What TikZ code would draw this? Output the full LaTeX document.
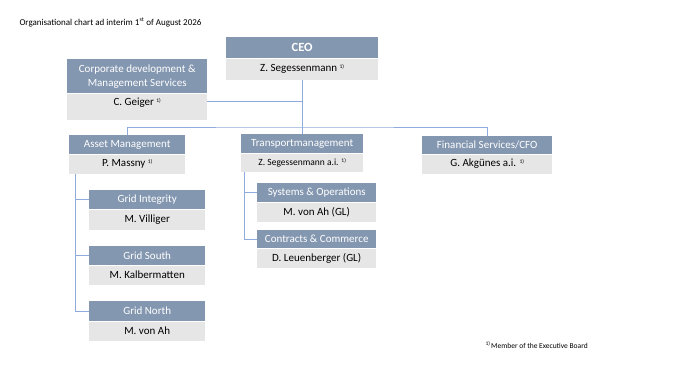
\documentclass[tikz,border=0pt]{standalone}
\usepackage{fontspec}
\setmainfont{Carlito}
\usetikzlibrary{positioning}
\definecolor{hdblue}{HTML}{8497B0}
\definecolor{bdgray}{HTML}{E7E6E6}
\definecolor{lnblue}{HTML}{8FAADC}
\newcommand{\eb}{\raisebox{3pt}{\fontsize{5.5}{6}\selectfont 1)}}
\tikzstyle{hd}=[fill=hdblue,text=white,inner sep=0pt,minimum height=19,anchor=north west,font=\fontsize{11}{14}\selectfont]
\tikzstyle{bd}=[fill=bdgray,inner sep=0pt,minimum height=19,font=\fontsize{11}{14}\selectfont]
\tikzstyle{ln}=[draw=lnblue,line width=0.8pt]

\begin{document}
\begin{tikzpicture}[x=1pt,y=-1pt]
	\useasboundingbox (0,0) rectangle (690,388);
	\node[anchor=west,font=\fontsize{9}{11}\selectfont] (title) at (16,22) {Organisational chart ad interim 1\textsuperscript{st} of August 2026};

	% top
	\node[hd,minimum width=152,minimum height=21,font=\bfseries\fontsize{12.5}{14}\selectfont] (ceo-h) at (226,37) {CEO};
	\node[bd,minimum width=152,minimum height=21,below=0pt of ceo-h] (ceo-b) {Z. Segessenmann \eb};
	\node[hd,minimum width=140,minimum height=34,align=center] (cds-h) at (67,59) {Corporate development \&\\Management Services};
	\node[bd,minimum width=140,minimum height=26,text height=9,text depth=11,below=0pt of cds-h] (cds-b) {C. Geiger \eb};

	% divisions
	\node[hd,minimum width=116] (am-h) at (69,135) {Asset Management};
	\node[bd,minimum width=116,below=0pt of am-h] (am-b) {P. Massny \eb};
	\node[hd,minimum width=122] (tm-h) at (241,134) {Transportmanagement};
	\node[bd,minimum width=122,minimum height=18,font=\fontsize{9.5}{11}\selectfont,below=0pt of tm-h] (tm-b) {Z. Segessenmann a.i. \eb};
	\node[hd,minimum width=130,minimum height=18] (fin-h) at (422,136) {Financial Services/CFO};
	\node[bd,minimum width=130,below=0pt of fin-h] (fin-b) {G. Akgünes a.i. \eb};

	% units
	\node[hd,minimum width=116] (gi-h) at (89,190) {Grid Integrity};
	\node[bd,minimum width=116,minimum height=20,below=0pt of gi-h] (gi-b) {M. Villiger};
	\node[hd,minimum width=116] (gs-h) at (89,246) {Grid South};
	\node[bd,minimum width=116,below=0pt of gs-h] (gs-b) {M. Kalbermatten};
	\node[hd,minimum width=116,minimum height=20] (gn-h) at (89,301) {Grid North};
	\node[bd,minimum width=116,below=0pt of gn-h] (gn-b) {M. von Ah};
	\node[hd,minimum width=119] (so-h) at (257,183) {Systems \& Operations};
	\node[bd,minimum width=119,below=0pt of so-h] (so-b) {M. von Ah (GL)};
	\node[hd,minimum width=119,minimum height=18] (cc-h) at (257,230) {Contracts \& Commerce};
	\node[bd,minimum width=119,below=0pt of cc-h] (cc-b) {D. Leuenberger (GL)};

	% lines
	\coordinate (bus) at (302,127);
	\coordinate (amx) at ([xshift=6pt]am-b.south west);
	\coordinate (tmx) at ([xshift=3pt]tm-b.south west);
	\draw[ln] (ceo-b.south) -- (tm-h.north);
	\draw[ln] ([yshift=5pt]cds-b.east) -- ([yshift=5pt]cds-b.east -| ceo-b.south);
	\draw[ln] (am-h.north) |- (bus) -| (fin-h.north);
	\draw[ln] (amx) |- (gn-h.west);
	\foreach \g in {gi,gs}
		\draw[ln] (amx |- \g-h.west) -- (\g-h.west);
	\draw[ln] (tmx) |- (cc-h.west);
	\draw[ln] (tmx |- so-h.west) -- (so-h.west);

	\node[anchor=west,font=\fontsize{7.5}{9}\selectfont] (note) at (482,345) {\eb\,Member of the Executive Board};
\end{tikzpicture}
\end{document}
